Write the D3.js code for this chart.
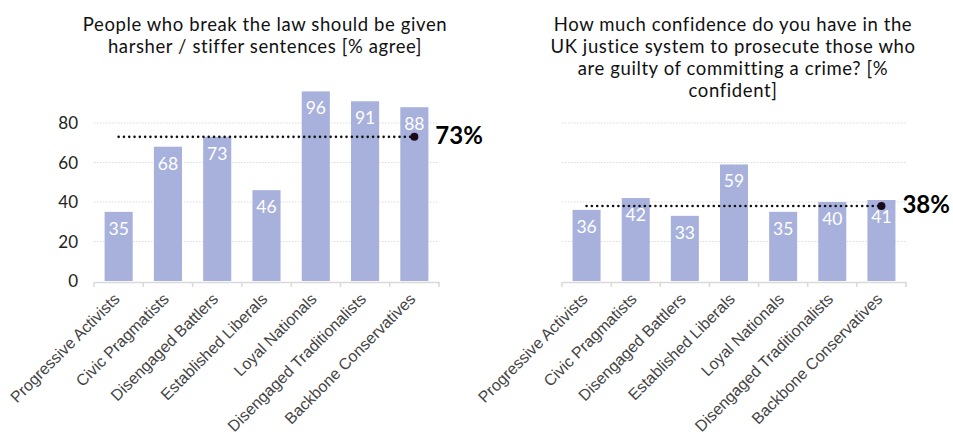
<!DOCTYPE html>
<html>
<head>
<meta charset="utf-8">
<script src="https://cdn.jsdelivr.net/npm/d3@7"></script>
<style>
  html, body { margin: 0; padding: 0; background: #fff; }
  svg { display: block; }
</style>
</head>
<body>
<svg id="chart" width="953" height="437"></svg>
<script>
// Segment names shared by both panels
const segments = [
  "Progressive Activists", "Civic Pragmatists", "Disengaged Battlers",
  "Established Liberals", "Loyal Nationals", "Disengaged Traditionalists",
  "Backbone Conservatives"
];

// Panel 1: % agree that lawbreakers should get harsher sentences
const harsherTitle = ["People who break the law should be given", "harsher / stiffer sentences [% agree]"];
const harsherValues = [35, 68, 73, 46, 96, 91, 88];
const harsherAverage = 73;

// Panel 2: % confident in the UK justice system
const confidenceTitle = ["How much confidence do you have in the", "UK justice system to prosecute those who", "are guilty of committing a crime? [%", "confident]"];
const confidenceValues = [36, 42, 33, 59, 35, 40, 41];
const confidenceAverage = 38;

// Value axis ticks
const yTicks = [0, 20, 40, 60, 80];

const svg = d3.select("#chart");
const barColor = "#a7b1dc";
const titleFont = "Lato, 'Noto Sans', sans-serif";

const y = d3.scaleLinear().domain([0, 100]).range([281, 83.5]);

function panel(opts) {
  const g = svg.append("g");
  const x = d3.scaleBand().domain(segments).range(opts.xRange).paddingInner(0.43).paddingOuter(0.215);
  const xb = d3.scaleBand().domain(segments).range(opts.xRange);

  // Title
  const title = g.append("text")
    .attr("x", opts.titleX)
    .attr("text-anchor", "middle")
    .style("font-family", titleFont)
    .style("font-size", "18.5px")
    .style("letter-spacing", "0.6px")
    .attr("fill", "#111");
  opts.title.forEach((line, i) => {
    title.append("tspan").attr("x", opts.titleX).attr("y", 31 + i * 22).text(line);
  });

  // Dotted gridlines
  g.append("g").selectAll("line")
    .data(yTicks.filter(d => d > 0))
    .join("line")
    .attr("x1", opts.xRange[0]).attr("x2", opts.xRange[1])
    .attr("y1", d => y(d)).attr("y2", d => y(d))
    .attr("stroke", "#dcdcdc")
    .attr("stroke-width", 1)
    .attr("stroke-dasharray", "1.5,1.5");

  // Value axis labels (first panel only)
  if (opts.showY) {
    g.append("g").selectAll("text")
      .data(yTicks)
      .join("text")
      .attr("x", 78)
      .attr("y", d => y(d))
      .attr("dy", "0.36em")
      .attr("text-anchor", "end")
      .style("font-family", titleFont)
      .style("font-size", "17px")
      .attr("fill", "#222")
      .text(d => d);
  }

  // Bars
  g.append("g").selectAll("rect")
    .data(opts.values)
    .join("rect")
    .attr("x", (d, i) => x(segments[i]))
    .attr("width", x.bandwidth())
    .attr("y", d => y(d))
    .attr("height", d => y(0) - y(d))
    .attr("fill", barColor);

  // Value labels inside bars
  g.append("g").selectAll("text")
    .data(opts.values)
    .join("text")
    .attr("x", (d, i) => x(segments[i]) + x.bandwidth() / 2)
    .attr("y", d => y(d) + 23)
    .attr("text-anchor", "middle")
    .style("font-family", titleFont)
    .style("font-size", "17.5px")
    .attr("fill", "#fff")
    .text(d => d);

  // Category axis
  const axis = g.append("g").attr("transform", `translate(0,${y(0) + 1})`)
    .call(d3.axisBottom(xb).tickSize(0).tickFormat(""));
  axis.select(".domain").attr("stroke", "#d9d9d9").attr("stroke-width", 1.5);
  const bounds = segments.map(s => xb(s)).concat([opts.xRange[1]]);
  axis.append("g").selectAll("line")
    .data(bounds)
    .join("line")
    .attr("x1", d => d).attr("x2", d => d)
    .attr("y1", 0).attr("y2", 5)
    .attr("stroke", "#d9d9d9").attr("stroke-width", 1.5);

  // Rotated category labels
  g.append("g").selectAll("text")
    .data(segments)
    .join("text")
    .attr("transform", d => `translate(${xb(d) + xb.bandwidth() / 2 + 2},${y(0) + 19}) rotate(-45)`)
    .attr("text-anchor", "end")
    .style("font-family", "'Liberation Sans', Arial, sans-serif")
    .style("font-size", "16px")
    .attr("fill", "#444")
    .text(d => d);

  // Average reference line
  const first = x(segments[0]) + x.bandwidth() / 2;
  const last = x(segments[segments.length - 1]) + x.bandwidth() / 2;
  g.append("line")
    .attr("x1", first).attr("x2", last)
    .attr("y1", y(opts.average)).attr("y2", y(opts.average))
    .attr("stroke", "#111")
    .attr("stroke-width", 2.6)
    .attr("stroke-linecap", "round")
    .attr("stroke-dasharray", "0,5.3");
  g.append("circle")
    .attr("cx", last).attr("cy", y(opts.average))
    .attr("r", 4)
    .attr("fill", "#1a0a1a");
  g.append("text")
    .attr("x", last + 21)
    .attr("y", y(opts.average) + 7)
    .style("font-family", "Lato, 'Open Sans', sans-serif")
    .style("font-weight", "bold")
    .style("font-size", "24px")
    .attr("fill", "#000")
    .text(opts.average + "%");
}

panel({ xRange: [94, 439], values: harsherValues, average: harsherAverage, title: harsherTitle, titleX: 265, showY: true });
panel({ xRange: [562, 906], values: confidenceValues, average: confidenceAverage, title: confidenceTitle, titleX: 733, showY: false });
</script>
</body>
</html>
